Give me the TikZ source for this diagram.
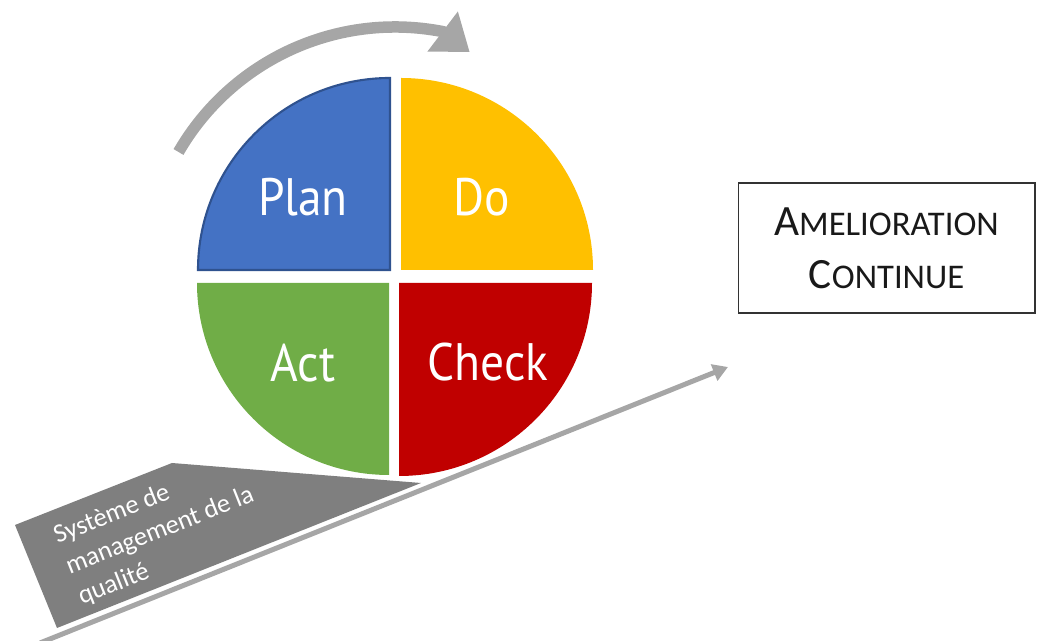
\documentclass[tikz,border=0pt]{standalone}
\usepackage{fontspec}
\setmainfont{Carlito}
\newfontfamily\roueFont{PT Sans}
\usetikzlibrary{arrows.meta}

\definecolor{planBleu}{HTML}{4472C4}
\definecolor{planBord}{HTML}{2F528F}
\definecolor{doJaune}{HTML}{FFC000}
\definecolor{actVert}{HTML}{70AD47}
\definecolor{checkRouge}{HTML}{C00000}
\definecolor{flecheGris}{HTML}{A6A6A6}
\definecolor{socleGris}{HTML}{7F7F7F}

% petites capitales simulees
\newcommand{\petiteCap}[2]{{\fontsize{24.6}{30}\selectfont #1}{\fontsize{19.7}{30}\selectfont #2}}

\begin{document}
\begin{tikzpicture}[
    x=0.02cm, y=0.02cm,
    quart/.style={draw=none},
    etiquette/.style={text=white, font=\roueFont\fontsize{30}{34}\selectfont, inner sep=0pt, xscale=0.9, transform shape},
    cycle/.style={draw=flecheGris, line width=0.23cm, -{Triangle[length=0.68cm, width=0.96cm]}},
    progres/.style={draw=flecheGris, line width=0.1cm, -{Triangle[length=0.3cm, width=0.34cm]}},
    cadre/.style={draw=black!80, line width=0.6pt, minimum width=5.94cm, minimum height=2.6cm, align=center,
        font=\fontsize{24.6}{30}\selectfont, text=black!90}
]
    \useasboundingbox (0,0) rectangle (1041,641);

    % --- socle : systeme de management ---
    \fill[socleGris] (15,116) -- (172,178) -- (421,158) -- (57,13) -- cycle;
    \node[text=white, rotate=21.7, align=left, font=\fontsize{15}{18.7}\selectfont] (smq) at (160,110)
        {Syst\`eme de\\management de la\\qualit\'e};

    % --- pente d'amelioration ---
    \coordinate (pied) at (40,-2);
    \coordinate (sommet) at (728,274);
    \draw[progres] (pied) -- (sommet);

    % --- roue PDCA ---
    \fill[quart, fill=planBleu] (390,371) -- (198,371) arc[start angle=180, end angle=90, radius=192] -- cycle;
    \draw[planBord, line width=1.2pt] (390,371) -- (198,371) arc[start angle=180, end angle=90, radius=192] -- cycle;
    \fill[quart, fill=doJaune] (401,371) -- (401,563) arc[start angle=90, end angle=0, radius=192] -- cycle;
    \fill[quart, fill=actVert] (389,358) -- (197,358) arc[start angle=180, end angle=270, radius=192] -- cycle;
    \fill[quart, fill=checkRouge] (399,358) -- (592,358) arc[start angle=0, end angle=-90, radius=193] -- cycle;

    \node[etiquette] (plan) at (303,444) {Plan};
    \node[etiquette] (do) at (482,444) {Do};
    \node[etiquette] (act) at (303,278) {Act};
    \node[etiquette] (check) at (488,279) {Check};

    % --- fleche du cycle ---
    \coordinate (depart) at (178.5,489);
    \draw[cycle] (depart) arc[start angle=150, end angle=79, radius=250] -- ++(27,-20.5);

    % --- amelioration continue ---
    \node[cadre] (amelio) at (886.5,393) {\petiteCap{A}{MELIORATION}\\\petiteCap{C}{ONTINUE}};

\end{tikzpicture}
\end{document}
